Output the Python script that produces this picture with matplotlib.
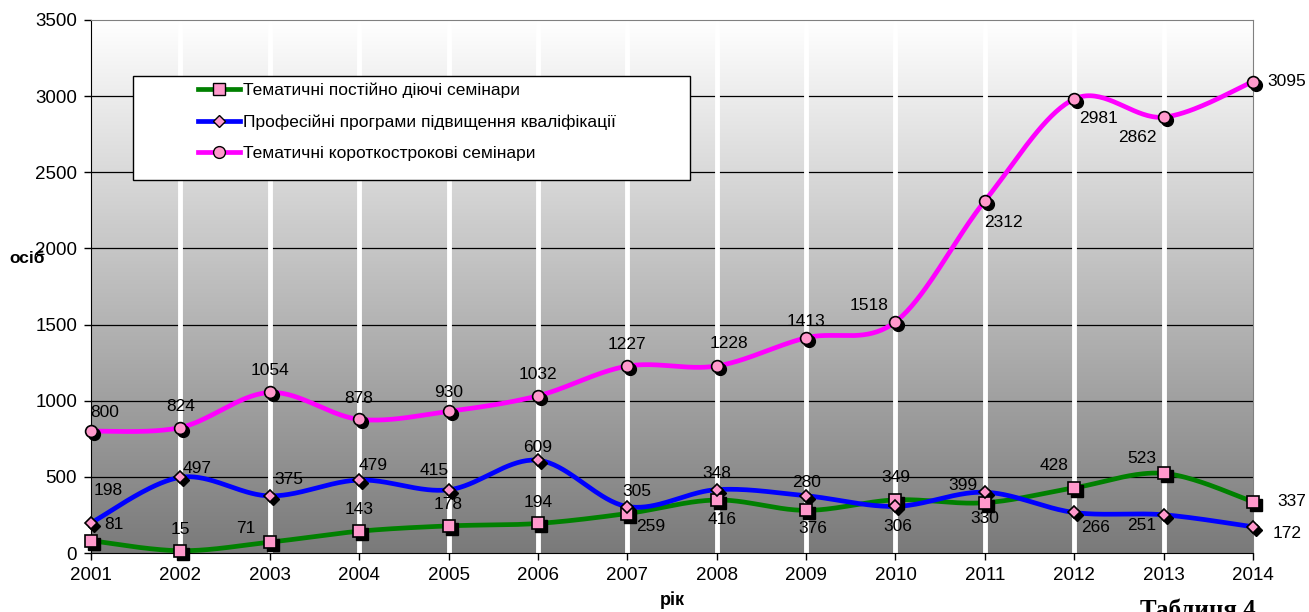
import numpy as np
import matplotlib
matplotlib.use('Agg')
import matplotlib.pyplot as plt
from matplotlib.colors import LinearSegmentedColormap
from matplotlib.lines import Line2D
from matplotlib.patches import Rectangle
from matplotlib.transforms import offset_copy

plt.rcParams['font.family'] = ['Liberation Sans', 'DejaVu Sans']

years = list(range(2001, 2015))
postiyni = [81, 15, 71, 143, 178, 194, 259, 348, 280, 349, 330, 428, 523, 337]
profesiyni = [198, 497, 375, 479, 415, 609, 305, 416, 376, 306, 399, 266, 251, 172]
korotko = [800, 824, 1054, 878, 930, 1032, 1227, 1228, 1413, 1518, 2312, 2981, 2862, 3095]
names = ['Тематичні постійно діючі семінари',
         'Професійні програми підвищення кваліфікації',
         'Тематичні короткострокові семінари']
yticks = [0, 500, 1000, 1500, 2000, 2500, 3000, 3500]

# label offsets in pixels (dx, dy up)
green_off = [(23, 16), (0, 21), (-24, 14), (0, 22), (0, 21), (0, 21), (23, -13),
             (0, 27), (0, 28), (0, 22), (0, -16), (-20, 22), (-22, 15), (39, 0)]
blue_off = [(17, 32), (17, 9), (19, 16), (14, 15), (-14, 19), (0, 13), (10, 15),
            (5, -30), (7, -33), (2, -20), (-22, 7), (21, -15), (-22, -11), (34, -7)]
pink_off = [(14, 19), (0, 21), (0, 22), (0, 21), (0, 19), (0, 21), (0, 22),
            (12, 22), (0, 16), (-26, 16), (19, -22), (24, -19), (-26, -20), (34, 0)]


def smooth(x, y, n=40):
    # excel-like smoothed line (catmull-rom as bezier)
    pts = np.column_stack([x, y]).astype(float)
    p = np.vstack([pts[0], pts, pts[-1]])
    t = np.linspace(0, 1, n)[:, None]
    out = []
    for i in range(len(pts) - 1):
        p0, p1, p2, p3 = p[i], p[i + 1], p[i + 2], p[i + 3]
        c1 = p1 + (p2 - p0) / 6
        c2 = p2 - (p3 - p1) / 6
        out.append((1 - t) ** 3 * p1 + 3 * (1 - t) ** 2 * t * c1
                   + 3 * (1 - t) * t ** 2 * c2 + t ** 3 * p2)
    s = np.vstack(out)
    return s[:, 0], s[:, 1]


fig = plt.figure(figsize=(13.09, 6.12), dpi=100)
ax = fig.add_axes([91 / 1309, 1 - 553 / 612, 1162 / 1309, 533 / 612])

grey = LinearSegmentedColormap.from_list('g', ['#ffffff', '#7a7a7a'])
ax.imshow(np.linspace(0, 1, 256).reshape(-1, 1), extent=(2001, 2014, 0, 3500),
          cmap=grey, aspect='auto', origin='upper', zorder=0)
for yv in yticks[1:-1]:
    ax.axhline(yv, color='k', lw=0.9, zorder=1)
for yr in years[1:-1]:
    ax.axvline(yr, color='white', lw=3.5, zorder=2)

pink = '#ff99cc'
shadow = offset_copy(ax.transData, fig=fig, x=3, y=-3, units='dots')
series = [(postiyni, '#008000', 's', 8, green_off),
          (profesiyni, '#0000ff', 'D', 6.5, blue_off),
          (korotko, '#ff00ff', 'o', 8.5, pink_off)]
for vals, col, mk, ms, offs in series:
    sx, sy = smooth(years, vals)
    ax.plot(sx, sy, color=col, lw=3.4, zorder=3, solid_capstyle='round', clip_on=False)
    ax.plot(years, vals, ls='none', marker=mk, ms=ms, mfc='k', mec='k',
            transform=shadow, zorder=4, clip_on=False)
    ax.plot(years, vals, ls='none', marker=mk, ms=ms, mfc=pink, mec='k', mew=1.2,
            zorder=5, clip_on=False)
    for x, v, (dx, dy) in zip(years, vals, offs):
        ax.annotate(str(v), (x, v), xytext=(dx, dy), textcoords='offset pixels',
                    ha='center', va='center', fontsize=12.5, zorder=6,
                    annotation_clip=False)

ax.set_xlim(2001, 2014)
ax.set_ylim(0, 3500)
ax.set_xticks(years)
ax.set_yticks(yticks)
ax.tick_params(axis='both', direction='out', length=5, width=1, labelsize=13.5, pad=5)
ax.spines['left'].set_color('k')
ax.spines['bottom'].set_color('k')
ax.spines['right'].set_color('#808080')
ax.spines['top'].set_color('#808080')

ax.add_patch(Rectangle((0.0361, 0.6998), 0.4793, 0.1951, transform=ax.transAxes,
                       fc='white', ec='k', lw=1, zorder=7))
handles = [Line2D([], [], color=c, lw=3.4, marker=m, ms=s, mfc=pink, mec='k')
           for _, c, m, s, _ in series]
ax.legend(handles, names, loc='upper left', bbox_to_anchor=(0.092, 0.883),
          frameon=False, fontsize=12.5, handlelength=2.4, handletextpad=0.2,
          labelspacing=0.95, borderpad=0, borderaxespad=0).set_zorder(8)

fig.text(27 / 1309, 1 - 258 / 612, 'осіб', fontsize=12.5, fontweight='bold',
         ha='center', va='center')
fig.text(672 / 1309, 1 - 600 / 612, 'рік', fontsize=13, fontweight='bold',
         ha='center', va='center')
fig.text(1140 / 1309, 1 - 600 / 612, 'Таблиця 4', fontsize=18, fontweight='bold',
         family='Liberation Serif', ha='left', va='top')

fig.savefig('out.png', dpi=100)
